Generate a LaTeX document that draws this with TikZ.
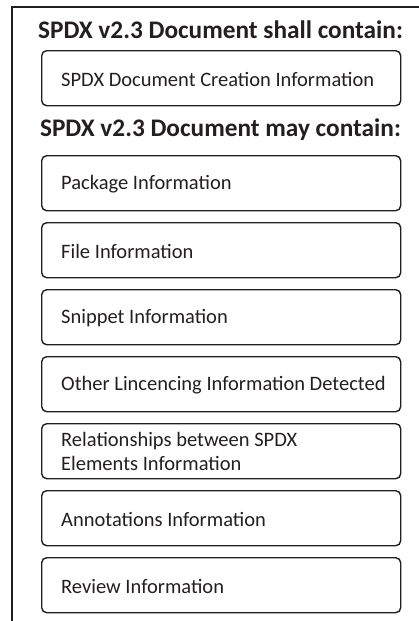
\documentclass[tikz,border=0pt]{standalone}
\usepackage{fontspec}
\setmainfont{Carlito}
\definecolor{ink}{HTML}{231F20}
\begin{document}
\begin{tikzpicture}[x=1pt,y=-1pt,
  infobox/.style={draw=ink, line width=1.4pt, rounded corners=5pt, anchor=north west,
    minimum width=359pt, minimum height=55pt, inner sep=0pt},
  boxtext/.style={anchor=west, inner sep=0pt, align=left,
    font=\fontsize{20.5}{24}\selectfont, text=ink},
  heading/.style={font=\bfseries\fontsize{25.3}{29}\selectfont, text=ink, anchor=center}]
\useasboundingbox (0,0) rectangle (419,621);
\coordinate (fb) at (12,621);
\coordinate (fc) at (12,7);
\coordinate (fr) at (419,7);
\draw[ink, line width=1.4pt] (fb) -- (fc) -- (fr);
\node[heading] (h1) at (220.5,30) {SPDX v2.3 Document shall contain:};
\node[infobox] (b0) at (41,50) {};
\node[boxtext] (t0) at ([xshift=20pt,yshift=-1pt]b0.west) {SPDX Document Creation Information};
\node[heading] (h2) at (220.5,130) {SPDX v2.3 Document may contain:};
\node[infobox] (b1) at (41,155) {};
\node[boxtext] (t1) at ([xshift=20pt,yshift=-1pt]b1.west) {Package Information};
\node[infobox] (b2) at (41,222) {};
\node[boxtext] (t2) at ([xshift=20pt,yshift=-1pt]b2.west) {File Information};
\node[infobox] (b3) at (41,289) {};
\node[boxtext] (t3) at ([xshift=20pt,yshift=-1pt]b3.west) {Snippet Information};
\node[infobox] (b4) at (41,356) {};
\node[boxtext] (t4) at ([xshift=20pt,yshift=-1pt]b4.west) {Other Lincencing Information Detected};
\node[infobox] (b5) at (41,423) {};
\node[boxtext] (t5) at ([xshift=20pt]b5.west) {Relationships between SPDX\\Elements Information};
\node[infobox] (b6) at (41,490) {};
\node[boxtext] (t6) at ([xshift=20pt,yshift=-1pt]b6.west) {Annotations Information};
\node[infobox] (b7) at (41,557) {};
\node[boxtext] (t7) at ([xshift=20pt,yshift=-1pt]b7.west) {Review Information};
\end{tikzpicture}
\end{document}
